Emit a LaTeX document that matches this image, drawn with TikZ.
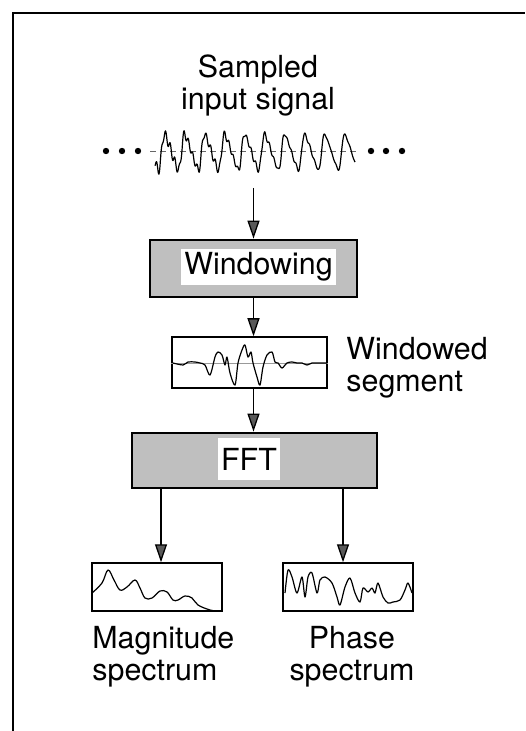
\documentclass[tikz,border=0pt]{standalone}
\usepackage{fontspec}
\setmainfont{TeX Gyre Heros}
\usetikzlibrary{arrows.meta, positioning}

\tikzset{
  procbox/.style={draw, line width=1.4pt, fill=black!25, inner sep=0pt},
  procname/.style={fill=white, inner xsep=1.5pt, inner ysep=0pt},
  plotbox/.style={draw, line width=0.75pt, inner sep=0pt,
                  minimum width=65pt, minimum height=24pt},
  flow/.style={-{Triangle[length=9pt,width=6pt,fill=black!65]}, line width=0.65pt},
  trace/.style={line width=0.6pt, line join=round},
  axisline/.style={line width=0.35pt, black!60}
}

\begin{document}
\begin{tikzpicture}[x=0.5pt, y=-0.5pt,
    every node/.style={font=\fontsize{15.2}{16}\selectfont},
    declare function={saw(\t)=sin(\t)+0.3*sin(2*\t)+0.12*sin(3*\t);}]
  \useasboundingbox (0,0) rectangle (525,731);

  % frame, open at the bottom and on the right
  \draw[line width=1.1pt] (13,731) -- (13,13) -- (525,13);

  % input signal
  \node[align=center, inner sep=0pt, anchor=north] (insig) at (258,54) {Sampled\\input signal};
  \draw[axisline, densely dashed] (150,151) -- (358,151);
  \draw[trace] plot[domain=155:355, samples=400]
    (\x, {152 - 16*(saw(18*(\x-161.5)) + 0.3*(355-\x)/200*sin(80*(\x-160.5)+30))});
  \foreach \dx in {106,122,138,371,386,402}
    \fill (\dx,151) circle[radius=1.6pt];
  \coordinate (sigout) at (253.5,188);

  % windowing stage
  \node[procbox, minimum width=103.5pt, minimum height=28.5pt] (win) at (253.5,268.5) {};
  \node[procname, minimum height=18pt] (winname) at (258.5,267) {Windowing};

  % windowed segment
  \node[plotbox, minimum width=77.5pt, minimum height=25.5pt] (seg) at (249.5,362.5) {};
  \draw[axisline, black!40] (seg.west |- 0,363) -- (seg.east |- 0,363);
  \draw[trace] plot[smooth, tension=0.5] coordinates {
    (173,363) (183,365) (188,362) (195,362) (200,363) (205,365) (210,375)
    (215,357) (218,352) (222,355) (225,365) (227,357) (230,373) (235,385)
    (238,363) (242,350) (245,345) (248,357) (251,352) (253,363) (257,377)
    (260,385) (263,367) (267,355) (272,352) (275,362) (278,363) (282,368)
    (287,363) (292,362) (297,363) (302,363) (307,365) (312,363) (318,363) (327,363)};
  \node[align=left, inner sep=0pt, anchor=north west] (seglabel) at (346,337) {Windowed\\segment};

  % FFT stage
  \node[procbox, minimum width=122.5pt, minimum height=27.5pt] (fft) at (254.5,460.5) {};
  \node[procname, minimum width=29pt, minimum height=21pt] (fftname) at (249,459) {FFT};

  % spectra
  \node[plotbox] (mag) at (157,587) {};
  \node[plotbox] (phase) at (348,587) {};
  \draw[trace] plot[smooth, tension=0.6] coordinates {
    (92,593) (102,583) (108,570) (114,580) (120,590) (127,587) (135,580)
    (140,588) (145,598) (152,598) (160,591) (167,592) (173,600) (178,600)
    (185,596) (192,598) (198,605) (210,610) (218,611)};
  \draw[trace] plot[smooth, tension=0.5] coordinates {
    (285,593) (288,570) (292,577) (297,593) (302,577) (305,597) (308,577)
    (312,573) (317,593) (320,580) (325,577) (332,583) (337,597) (340,605)
    (345,587) (350,578) (355,593) (360,602) (363,588) (368,592) (372,588)
    (375,593) (378,583) (383,597) (388,603) (393,602) (400,600) (405,590)
    (408,583) (412,593)};
  \node[align=left, inner sep=0pt, anchor=north west] (maglabel) at (92,626) {Magnitude\\spectrum};
  \node[align=center, inner sep=0pt, anchor=north] (phaselabel) at (352,626) {Phase\\spectrum};

  % signal flow
  \draw[flow] (sigout) -- (win.north);
  \draw[flow] (win.south) -- (win.south |- seg.north);
  \draw[flow] (win.south |- seg.south) -- (win.south |- fft.north);
  \draw[flow] ([xshift=2pt]mag.north |- fft.south) -- ([xshift=2pt]mag.north);
  \draw[flow] ([xshift=-2.5pt]phase.north |- fft.south) -- ([xshift=-2.5pt]phase.north);
\end{tikzpicture}
\end{document}
